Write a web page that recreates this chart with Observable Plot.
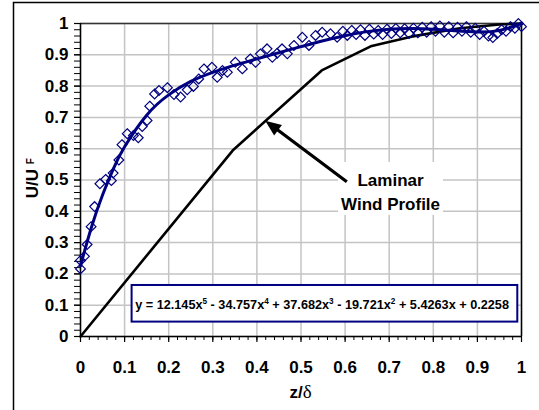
<!DOCTYPE html>
<html>
<head>
<meta charset="utf-8">
<script src="https://cdn.jsdelivr.net/npm/d3@7"></script>
<script src="https://cdn.jsdelivr.net/npm/@observablehq/plot@0.6"></script>
<style>
  html, body { margin: 0; padding: 0; background: #fff; }
  #wrap { position: relative; width: 539px; height: 410px; overflow: hidden; }
  svg { display: block; }
</style>
</head>
<body>
<div id="wrap"></div>
<script>
// ---- data ----
const xTicks = [0, 0.1, 0.2, 0.3, 0.4, 0.5, 0.6, 0.7, 0.8, 0.9, 1];
const xTickLabels = ["0", "0.1", "0.2", "0.3", "0.4", "0.5", "0.6", "0.7", "0.8", "0.9", "1"];
const yTicks = [0, 0.1, 0.2, 0.3, 0.4, 0.5, 0.6, 0.7, 0.8, 0.9, 1];
const yTickLabels = ["0", "0.1", "0.2", "0.3", "0.4", "0.5", "0.6", "0.7", "0.8", "0.9", "1"];

// measured wind profile (diamonds)
const obsX = [0.000, 0.000, 0.009, 0.015, 0.024, 0.032, 0.044, 0.057, 0.070, 0.074,
  0.087, 0.094, 0.106, 0.120, 0.131, 0.140, 0.151, 0.157, 0.168, 0.178,
  0.197, 0.212, 0.227, 0.242, 0.256, 0.268, 0.280, 0.298, 0.310, 0.322,
  0.333, 0.351, 0.367, 0.385, 0.397, 0.408, 0.423, 0.435, 0.446, 0.457,
  0.469, 0.484, 0.503, 0.518, 0.533, 0.548, 0.567, 0.582, 0.595, 0.605,
  0.615, 0.625, 0.635, 0.645, 0.655, 0.665, 0.675, 0.685, 0.695, 0.705,
  0.715, 0.725, 0.735, 0.745, 0.755, 0.765, 0.775, 0.785, 0.795, 0.805,
  0.815, 0.825, 0.835, 0.845, 0.855, 0.865, 0.875, 0.885, 0.895, 0.905,
  0.915, 0.925, 0.935, 0.945, 0.955, 0.965, 0.975, 0.985, 0.993, 1.000];
const obsY = [0.216, 0.243, 0.256, 0.294, 0.351, 0.415, 0.488, 0.502, 0.498, 0.522,
  0.564, 0.613, 0.648, 0.642, 0.635, 0.671, 0.690, 0.736, 0.775, 0.786,
  0.795, 0.773, 0.765, 0.788, 0.799, 0.823, 0.855, 0.860, 0.828, 0.850,
  0.844, 0.876, 0.855, 0.887, 0.876, 0.903, 0.919, 0.892, 0.905, 0.919,
  0.903, 0.930, 0.956, 0.930, 0.962, 0.972, 0.967, 0.956, 0.975, 0.962,
  0.978, 0.965, 0.980, 0.962, 0.982, 0.966, 0.978, 0.965, 0.982, 0.968,
  0.984, 0.970, 0.983, 0.968, 0.985, 0.970, 0.988, 0.972, 0.990, 0.975,
  0.992, 0.972, 0.990, 0.970, 0.988, 0.975, 0.990, 0.972, 0.985, 0.965,
  0.975, 0.960, 0.955, 0.968, 0.980, 0.975, 0.990, 0.985, 1.000, 0.990];

// polynomial trend line
const fitX = [0, 0.025, 0.05, 0.075, 0.1, 0.15, 0.2, 0.25, 0.3, 0.35, 0.4, 0.45, 0.5,
  0.55, 0.6, 0.65, 0.7, 0.75, 0.8, 0.85, 0.9, 0.95, 1];
const fitY = [0.226, 0.350, 0.452, 0.537, 0.606, 0.707, 0.772, 0.815, 0.844, 0.867, 0.887, 0.907, 0.926,
  0.945, 0.961, 0.974, 0.982, 0.984, 0.982, 0.977, 0.973, 0.978, 1.000];

// laminar wind profile
const laminarX = [0, 0.345, 0.547, 0.658, 0.750, 0.860, 0.950, 1.0];
const laminarY = [0, 0.594, 0.850, 0.927, 0.958, 0.985, 0.997, 1.0];

// annotations
const annotationLines = ["Laminar", "Wind Profile"];
const annotationAt = {x: 0.703, y: 0.466};
const annotationBox = {x1: 0.585, x2: 0.823, y1: 0.387, y2: 0.556};
const arrowFrom = {x: 0.605, y: 0.493};
const arrowTo = {x: 0.420, y: 0.688};
const equationTerms = [["y = 12.145x", "5"], [" - 34.757x", "4"], [" + 37.682x", "3"],
  [" - 19.721x", "2"], [" + 5.4263x + 0.2258", ""]];
const equationAt = {x: 0.125, y: 0.085};
const equationBox = {x1: 0.117, x2: 0.9916, y1: 0.046, y2: 0.163};
const xLabel = ["z/", "δ"];
const yLabel = ["U/U ", "F"];

// ---- tables ----
const obs = obsX.map((x, i) => ({x, y: obsY[i]}));
const fit = fitX.map((x, i) => ({x, y: fitY[i]}));
const laminar = laminarX.map((x, i) => ({x, y: laminarY[i]}));
const minor = d3.range(0, 1.0001, 0.02);
const NAVY = "#000080";
const FONT = "'Liberation Sans', Arial, sans-serif";

function chartFrame(index, scales, values, dimensions) {
  const g = d3.create("svg:g").attr("fill", "none").attr("stroke", "#000").attr("stroke-width", 1.5);
  g.append("path").attr("d", `M13.5,${dimensions.height}V2.5H${dimensions.width}`);
  return g.node();
}

function arrowMark(index, scales) {
  const g = d3.create("svg:g");
  const x1 = scales.x(arrowFrom.x), y1 = scales.y(arrowFrom.y);
  const x2 = scales.x(arrowTo.x), y2 = scales.y(arrowTo.y);
  const dx = x2 - x1, dy = y2 - y1, len = Math.hypot(dx, dy);
  const ux = dx / len, uy = dy / len, L = 16, w = 6.5;
  const bx = x2 - ux * L, by = y2 - uy * L;
  g.append("line").attr("x1", x1).attr("y1", y1).attr("x2", bx + ux * 2).attr("y2", by + uy * 2)
    .attr("stroke", "#000").attr("stroke-width", 3.2);
  g.append("path")
    .attr("d", `M${x2},${y2}L${bx - uy * w},${by + ux * w}L${bx + uy * w},${by - ux * w}Z`)
    .attr("fill", "#000");
  return g.node();
}

function equationMark(index, scales) {
  const t = d3.create("svg:text")
    .attr("x", scales.x(equationAt.x)).attr("y", scales.y(equationAt.y))
    .attr("text-anchor", "start")
    .attr("font-family", FONT).attr("font-weight", "bold").attr("font-size", 12.7)
    .attr("fill", "#000");
  let raised = false;
  for (const [base, sup] of equationTerms) {
    t.append("tspan").attr("dy", raised ? 5 : 0).attr("font-size", 12.7).text(base);
    raised = false;
    if (sup) { t.append("tspan").attr("dy", -5).attr("font-size", 8.2).text(sup); raised = true; }
  }
  return t.node();
}

function xLabelMark(index, scales) {
  const t = d3.create("svg:text")
    .attr("x", scales.x(0.5)).attr("y", scales.y(0) + 62)
    .attr("text-anchor", "middle").attr("fill", "#000");
  t.append("tspan").attr("font-family", FONT).attr("font-weight", "bold").attr("font-size", 17).text(xLabel[0]);
  t.append("tspan").attr("font-family", "'Liberation Serif', 'DejaVu Serif', serif").attr("font-weight", "normal").attr("font-size", 19).text(xLabel[1]);
  return t.node();
}

function yLabelMark(index, scales, values, dimensions) {
  const x0 = dimensions.marginLeft - 42, y0 = scales.y(0.44);
  const t = d3.create("svg:text")
    .attr("transform", `translate(${x0},${y0}) rotate(-90)`)
    .attr("text-anchor", "start").attr("fill", "#000")
    .attr("font-family", FONT).attr("font-weight", "bold");
  t.append("tspan").attr("font-size", 17).text(yLabel[0]);
  t.append("tspan").attr("font-size", 10).attr("dy", -4).text(yLabel[1]);
  return t.node();
}

const chart = Plot.plot({
  width: 539,
  height: 410,
  marginLeft: 80,
  marginRight: 18,
  marginTop: 23,
  marginBottom: 74,
  x: {domain: [0, 1], axis: null},
  y: {domain: [0, 1], axis: null},
  style: {fontFamily: FONT, fontWeight: "bold", fontSize: "17px", color: "#000", background: "#fff", overflow: "visible"},
  marks: [
    chartFrame,
    Plot.gridX(xTicks, {stroke: "#c4c4c4", strokeOpacity: 1, strokeWidth: 1.5}),
    Plot.gridY(yTicks, {stroke: "#c4c4c4", strokeOpacity: 1, strokeWidth: 1.5}),
    Plot.ruleY([1], {stroke: "#333", strokeWidth: 1.5}),
    Plot.ruleX([1], {stroke: "#000", strokeWidth: 1.5}),
    Plot.axisX(minor, {tickSize: 4, tickFormat: () => "", label: null, stroke: "#000", strokeWidth: 1}),
    Plot.axisX(xTicks, {tickSize: 6, tickPadding: 18, label: null, stroke: "#000", strokeWidth: 1.2,
      tickFormat: d => xTickLabels[xTicks.indexOf(d)], fontSize: 17, fontWeight: "bold", fill: "#000"}),
    Plot.axisY(minor, {tickSize: 6, tickFormat: () => "", label: null, stroke: "#000", strokeWidth: 1}),
    Plot.axisY(yTicks, {tickSize: 6, tickPadding: 6, label: null, stroke: "#000", strokeWidth: 1.2,
      tickFormat: d => yTickLabels[yTicks.indexOf(d)], fontSize: 17, fontWeight: "bold", fill: "#000"}),
    Plot.ruleX([0], {stroke: "#000", strokeWidth: 1.5}),
    Plot.ruleY([0], {stroke: "#000", strokeWidth: 1.5}),
    Plot.line(laminar, {x: "x", y: "y", stroke: "#000", strokeWidth: 2.6}),
    Plot.dot(obs, {x: "x", y: "y", symbol: "diamond2", r: 4.4, stroke: NAVY, strokeWidth: 1.2, fill: "none"}),
    Plot.line(fit, {x: "x", y: "y", curve: "natural", stroke: NAVY, strokeWidth: 3}),
    Plot.rect([annotationBox], {x1: "x1", x2: "x2", y1: "y1", y2: "y2", fill: "#fff"}),
    Plot.text([annotationLines.join("\n")], {x: () => annotationAt.x, y: () => annotationAt.y,
      text: d => d, lineHeight: 1.41, fontSize: 17, fontWeight: "bold", fill: "#000", textAnchor: "middle"}),
    arrowMark,
    Plot.rect([equationBox], {x1: "x1", x2: "x2", y1: "y1", y2: "y2", fill: "#fff", stroke: NAVY, strokeWidth: 2}),
    equationMark,
    xLabelMark,
    yLabelMark
  ]
});
document.getElementById("wrap").appendChild(chart);
</script>
</body>
</html>
